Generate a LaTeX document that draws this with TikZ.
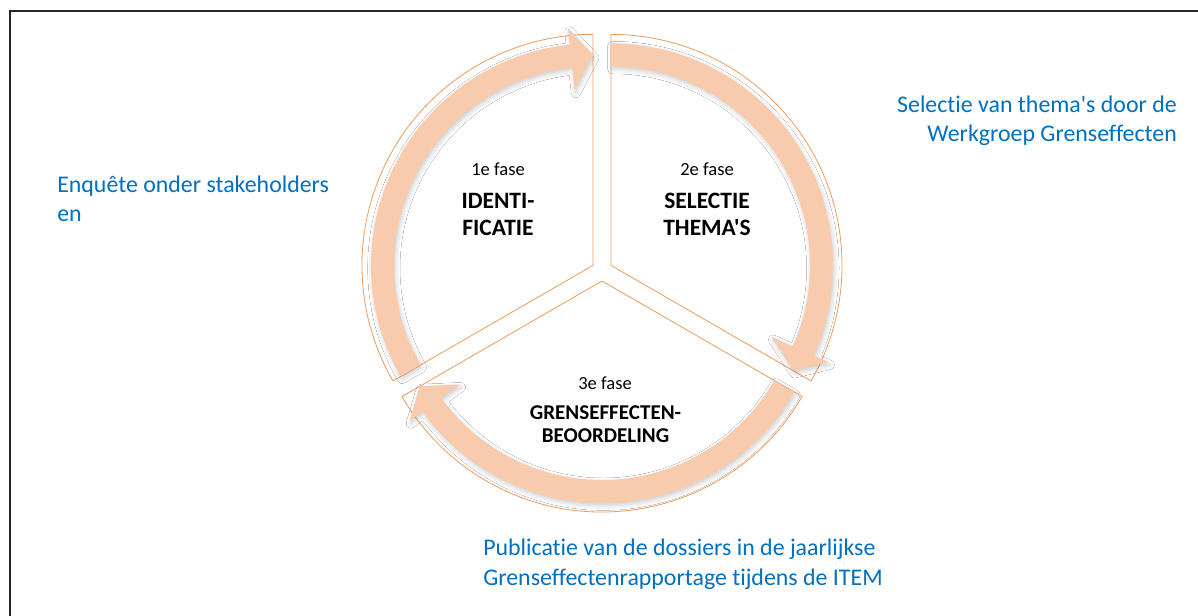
\documentclass[tikz,border=0pt]{standalone}
\usepackage{fontspec}
\setmainfont{Carlito}[Ligatures={TeXOff,NoCommon}]
\usetikzlibrary{calc,shadows.blur}
\definecolor{bandfill}{HTML}{F8CBAD}
\definecolor{edgeorange}{HTML}{EE9B60}
\definecolor{notesblue}{HTML}{0070C0}
\begin{document}
\begin{tikzpicture}[x=0.75pt,y=0.75pt,
  frameline/.style={line width=1.5pt,draw=black!85},
  sector/.style={draw=edgeorange,line width=0.6pt,fill=white},
  band/.style={fill=bandfill,
    blur shadow={shadow xshift=1pt,shadow yshift=-2pt,shadow blur radius=3.5pt,shadow opacity=20}},
  phase/.style={font=\fontsize{13.9}{16}\selectfont,inner sep=0pt,anchor=base},
  titletop/.style={font=\fontsize{17.6}{20}\selectfont\bfseries,align=center,inner sep=0pt,anchor=base},
  titlebot/.style={font=\fontsize{15.8}{17.5}\selectfont\bfseries,align=center,inner sep=0pt,anchor=base},
  note/.style={font=\fontsize{17.9}{22.1}\selectfont,text=notesblue,inner sep=0pt}]
\useasboundingbox (0,0) rectangle (1198,-616);
\fill[white] (0,0) rectangle (1198,-616);

% frame
\coordinate (fTL) at (10,-11);
\coordinate (fTR) at (1198,-11);
\coordinate (fBL) at (10,-616);
\draw[frameline] (fTR) -- (fTL) -- (fBL);

% sector vertices
\coordinate (V1) at (593,-265.4);
\coordinate (V2) at (611,-265.4);
\coordinate (V3) at (602,-281);

% sectors
\draw[sector] (V1) -- ++(210:231) arc[start angle=210,end angle=90,radius=231] -- cycle;
\draw[sector] (V2) -- ++(90:231) arc[start angle=90,end angle=-30,radius=231] -- cycle;
\draw[sector] (V3) -- ++(-30:231) arc[start angle=-30,end angle=-150,radius=231] -- cycle;

% curved arrows
\fill[band] ($(V1)+(210:222)$) arc[start angle=210,end angle=96,radius=222]
  -- ($(V1)+(96:238)$) -- ($(V1)+(90:210.5)$) -- ($(V1)+(96:176)$)
  -- ($(V1)+(96:199)$) arc[start angle=96,end angle=210,radius=199] -- cycle;
\fill[band] ($(V2)+(90:222)$) arc[start angle=90,end angle=-24,radius=222]
  -- ($(V2)+(-24:238)$) -- ($(V2)+(-30:210.5)$) -- ($(V2)+(-24:176)$)
  -- ($(V2)+(-24:199)$) arc[start angle=-24,end angle=90,radius=199] -- cycle;
\fill[band] ($(V3)+(-30:222)$) arc[start angle=-30,end angle=-144,radius=222]
  -- ($(V3)+(-144:238)$) -- ($(V3)+(-150:210.5)$) -- ($(V3)+(-144:176)$)
  -- ($(V3)+(-144:199)$) arc[start angle=-144,end angle=-30,radius=199] -- cycle;

% phase labels (base anchor = baseline of last line)
\node[phase] (f1) at (498,-176) {1e fase};
\node[titletop] (t1) at (498,-235.5) {IDENTI-\\FICATIE};
\node[phase] (f2) at (707,-176) {2e fase};
\node[titletop] (t2) at (707,-235.5) {SELECTIE\\THEMA'S};
\node[phase] (f3) at (605,-389) {3e fase};
\node[titlebot] (t3) at (605.5,-442.5) {GRENSEFFECTEN-\\BEOORDELING};

% notes
\node[note,align=right,anchor=base east] (n2) at (1177,-141.5) {Selectie van thema's door de\\Werkgroep Grenseffecten};
\node[note,align=left,anchor=base west] (n1) at (57,-221.5) {Enquête onder stakeholders\\en};
\node[note,align=left,anchor=base west] (n3) at (483,-585) {Publicatie van de dossiers in de jaarlijkse\\Grenseffectenrapportage tijdens de ITEM};
\end{tikzpicture}
\end{document}
